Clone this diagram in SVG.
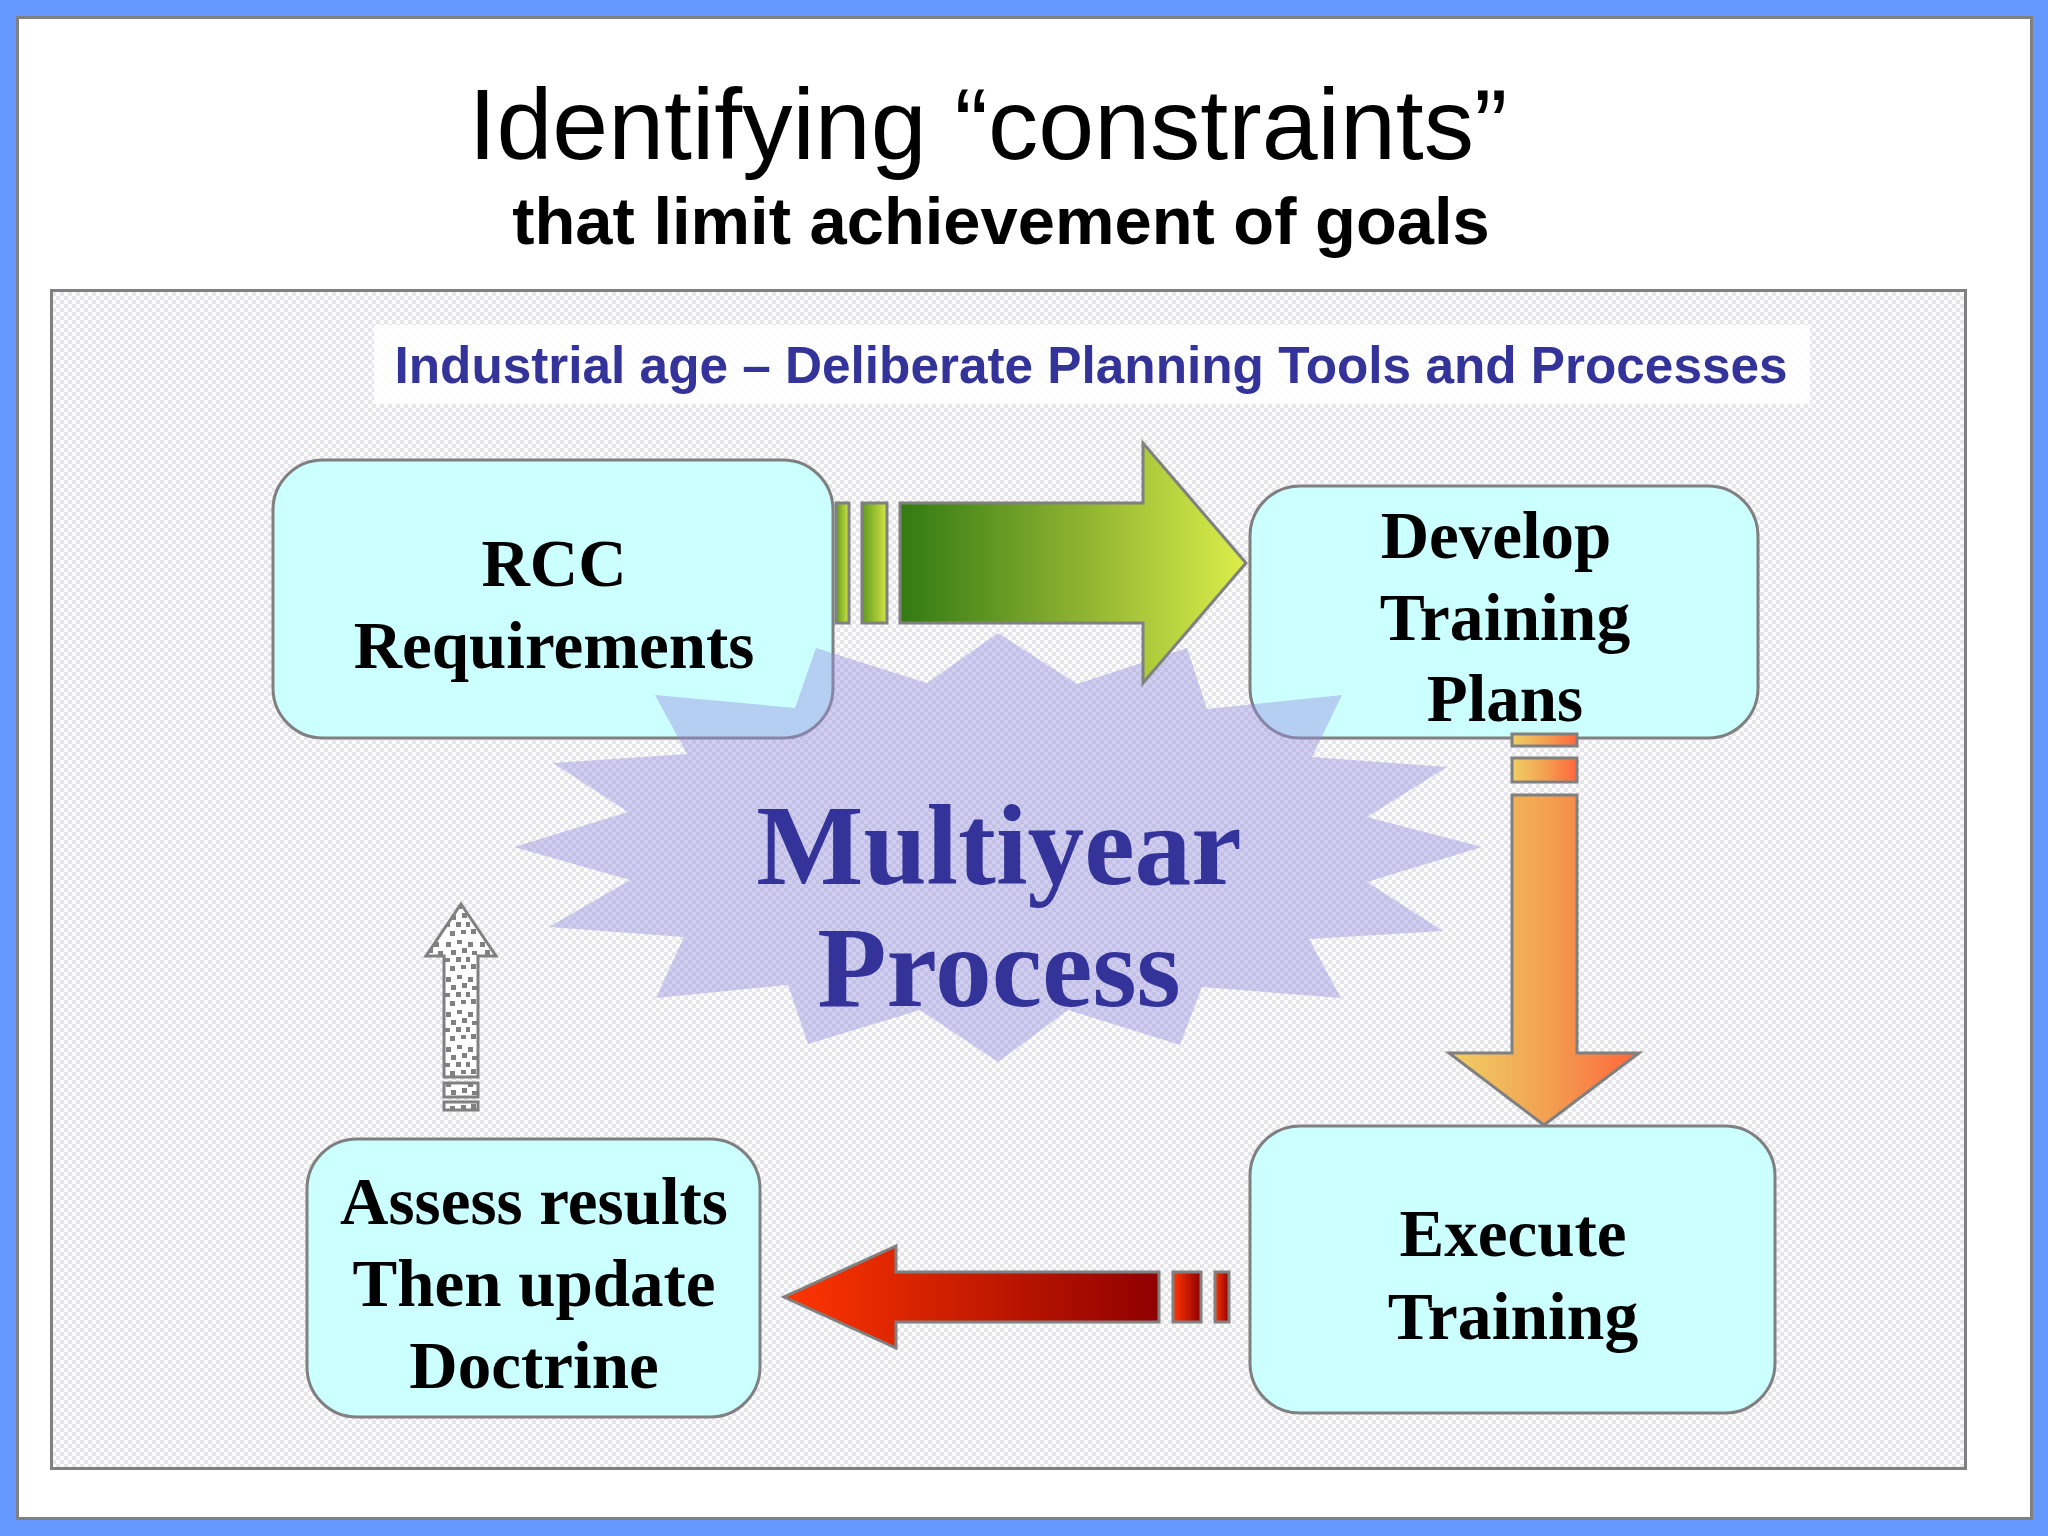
<svg xmlns="http://www.w3.org/2000/svg" width="2048" height="1536" viewBox="0 0 2048 1536">
<style>
.box{fill:#ccffff;stroke:#808080;stroke-width:3}
.ln{stroke:#808080;stroke-width:3;stroke-linejoin:miter}
.nt{font-family:"Liberation Serif","Times New Roman",serif;font-weight:bold;font-size:67px;fill:#000;text-anchor:middle}
.big{font-family:"Liberation Serif","Times New Roman",serif;font-weight:bold;font-size:113.500px;fill:#333399;text-anchor:middle}
</style>
<defs>
<pattern id="chk" width="8" height="8" patternUnits="userSpaceOnUse"><rect width="8" height="8" fill="#fcfcfd"/><rect width="4" height="4" fill="#e6e6ea"/><rect x="4" y="4" width="4" height="4" fill="#e6e6ea"/></pattern>
<pattern id="dots" width="34" height="35" patternUnits="userSpaceOnUse" x="444" y="904"><rect width="34" height="35" fill="#fff"/><g fill="#808080"><rect x="2" y="3" width="5" height="5"/><rect x="13" y="1" width="5" height="4"/><rect x="24" y="3" width="5" height="5"/><rect x="7" y="11" width="5" height="5"/><rect x="18" y="9" width="5" height="5"/><rect x="28" y="12" width="5" height="4"/><rect x="1" y="19" width="5" height="4"/><rect x="12" y="18" width="5" height="5"/><rect x="22" y="18" width="4" height="5"/><rect x="6" y="27" width="5" height="5"/><rect x="17" y="26" width="5" height="4"/><rect x="27" y="25" width="5" height="5"/></g></pattern>
<linearGradient id="gM"><stop offset="0" stop-color="#317a12"/><stop offset=".5" stop-color="#8ab030"/><stop offset="1" stop-color="#dcee4a"/></linearGradient>
<linearGradient id="gS"><stop offset="0" stop-color="#5f9a1e"/><stop offset="1" stop-color="#d2e444"/></linearGradient>
<linearGradient id="oM"><stop offset="0" stop-color="#f0d066"/><stop offset=".5" stop-color="#f2a252"/><stop offset="1" stop-color="#ff663c"/></linearGradient>
<linearGradient id="rM"><stop offset="0" stop-color="#ff3600"/><stop offset="1" stop-color="#8f0000"/></linearGradient>
</defs>
<rect x="0" y="0" width="2048" height="1536" fill="#6699ff"/>
<rect x="17.500" y="17.500" width="2014" height="1501" fill="#fff" stroke="#808080" stroke-width="3"/>
<rect x="51.500" y="290.500" width="1914" height="1178" fill="url(#chk)" stroke="#808080" stroke-width="3"/>
<g id="title">
<text x="988" y="159" text-anchor="middle" font-family="'Liberation Sans',Arial,sans-serif" font-size="100.500" fill="#000">Identifying “constraints”</text>
<text x="1001" y="244" text-anchor="middle" font-family="'Liberation Sans',Arial,sans-serif" font-size="66.900" font-weight="bold" fill="#000">that limit achievement of goals</text>
</g>
<g id="banner">
<rect x="374" y="325" width="1436" height="79" fill="#fff" fill-opacity=".85"/>
<text x="1091" y="383" text-anchor="middle" font-family="'Liberation Sans',Arial,sans-serif" font-size="51.300" font-weight="bold" fill="#333399">Industrial age – Deliberate Planning Tools and Processes</text>
</g>
<g id="node-rcc">
<rect class="box" x="273" y="460" width="560" height="278" rx="50"/>
<text class="nt" x="554" y="586">RCC</text>
<text class="nt" x="554" y="668">Requirements</text>
</g>
<g id="node-develop">
<rect class="box" x="1250" y="486" width="508" height="252" rx="50"/>
<text class="nt" x="1496" y="558">Develop</text>
<text class="nt" x="1505" y="640" style="font-size:67.600px">Training</text>
<text class="nt" x="1505" y="721">Plans</text>
</g>
<g id="node-execute">
<rect class="box" x="1250" y="1126" width="525" height="287" rx="50"/>
<text class="nt" x="1513" y="1256">Execute</text>
<text class="nt" x="1513" y="1339" style="font-size:67.600px">Training</text>
</g>
<g id="node-assess">
<rect class="box" x="307" y="1139" width="453" height="278" rx="50"/>
<text class="nt" x="534" y="1224">Assess results</text>
<text class="nt" x="534" y="1306">Then update</text>
<text class="nt" x="534" y="1388">Doctrine</text>
</g>
<g id="node-multiyear">
<polygon fill="#948de0" fill-opacity=".42" points="998,633 1077,684 1187,648 1207,709 1342,695 1312,757 1447,767 1367,817 1482,847 1367,882 1443,931 1309,939 1341,998 1202,987 1180,1045 1068,1010 998,1062 920,1010 808,1044 788,985 656,998 684,937 549,927 630,880 514,847 628,812 553,763 687,754 655,695 795,708 816,648 927,683"/>
<text class="big" x="999" y="884">Multiyear</text>
<text class="big" x="999" y="1006">Process</text>
</g>
<g id="connectors">
<g id="arrow-green">
<rect class="ln" fill="url(#gS)" x="836" y="503" width="13" height="120"/>
<rect class="ln" fill="url(#gS)" x="862" y="503" width="25" height="120"/>
<polygon class="ln" fill="url(#gM)" points="900,503 1143,503 1143,443 1246,563 1143,683 1143,623 900,623"/>
</g>
<g id="arrow-orange">
<rect class="ln" fill="url(#oM)" x="1512" y="734" width="65" height="12"/>
<rect class="ln" fill="url(#oM)" x="1512" y="758" width="65" height="24"/>
<polygon class="ln" fill="url(#oM)" points="1512,795 1577,795 1577,1053 1639,1053 1544,1125 1449,1053 1512,1053"/>
</g>
<g id="arrow-red">
<rect class="ln" fill="url(#rM)" x="1215" y="1272" width="14" height="50"/>
<rect class="ln" fill="url(#rM)" x="1173" y="1272" width="28" height="50"/>
<polygon class="ln" fill="url(#rM)" points="1159,1272 896,1272 896,1246 784,1297 896,1348 896,1322 1159,1322"/>
</g>
<g id="arrow-dotted">
<rect class="ln" fill="url(#dots)" x="444" y="1102" width="34" height="8"/>
<rect class="ln" fill="url(#dots)" x="444" y="1083" width="34" height="14"/>
<polygon class="ln" fill="url(#dots)" points="461,904 496,956 478,956 478,1077 444,1077 444,956 426,956"/>
</g>
</g>
</svg>
